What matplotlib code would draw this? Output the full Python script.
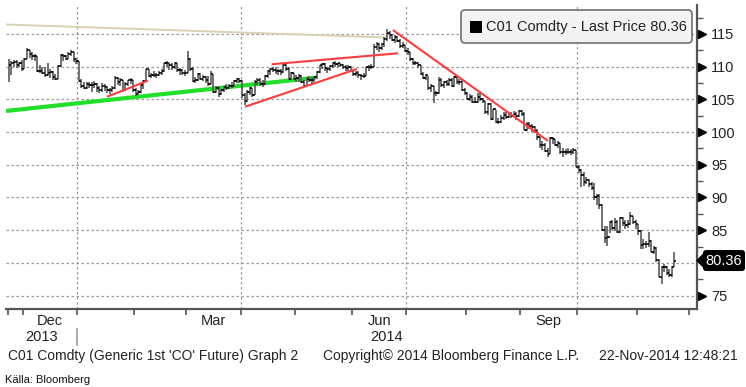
import numpy as np
import pandas as pd
import matplotlib
matplotlib.use("Agg")
import matplotlib.pyplot as plt
from matplotlib.patches import FancyBboxPatch, Polygon
from matplotlib.transforms import blended_transform_factory, IdentityTransform
from matplotlib.lines import Line2D

# ---------------- data ----------------
holidays = ["2013-12-25", "2014-01-01", "2014-04-18"]
start_date = "2013-11-22"
end_date = "2014-11-21"

high = [111.2, 110.8, 111.0, 111.0, 110.7, 111.0,
        111.3, 112.9, 112.5, 112.2, 111.9, 111.7, 110.2, 110.0, 109.9, 110.6, 109.6, 109.3, 108.9, 110.3, 111.9,
        111.9, 111.8, 112.2, 112.6, 112.2, 111.3,
        110.9, 108.1, 107.6, 107.7, 107.7, 107.6, 107.8, 107.5, 107.0, 107.5, 107.3, 107.0, 106.8, 107.0, 108.5,
        108.4, 108.2, 108.0, 107.6, 108.0, 108.2, 108.0,
        106.7, 106.4, 107.3, 107.9, 109.7, 109.7, 109.0, 109.3, 109.0, 109.4, 109.6, 110.6, 110.8, 110.6, 110.5,
        110.7, 110.6, 109.8, 109.6, 109.5,
        112.4, 111.4, 109.9, 108.4, 109.0, 109.1, 108.7, 108.6, 108.6, 109.3, 108.9, 107.0, 107.0, 106.6, 107.1,
        107.4, 107.3, 107.6, 108.0, 108.3, 108.3,
        107.9, 105.9, 106.4, 106.9, 106.8, 107.9, 108.2, 108.3, 107.9, 108.8, 109.5, 109.8, 110.0, 109.9, 109.6,
        109.6, 110.6, 110.4, 109.9, 109.2, 109.1,
        108.7, 108.9, 108.8, 108.0, 108.4, 108.6, 108.4, 108.6, 109.3, 110.3, 110.6, 110.5, 110.0, 110.2, 110.7,
        110.8, 110.6, 110.5, 110.4, 110.2, 110.2, 110.1,
        109.5, 109.3, 109.3, 108.9, 109.0, 110.0, 110.3, 110.4, 113.4, 113.8, 113.6, 113.6, 114.6, 115.7, 115.5,
        115.0, 114.8, 114.7, 114.2, 113.7, 113.3,
        112.8, 112.3, 111.4, 110.9, 110.7, 110.3, 109.2, 108.9, 108.6, 107.3, 107.0, 106.3, 108.4, 108.2, 107.8,
        108.0, 108.2, 108.2, 108.5, 108.6, 108.1, 107.9, 106.7,
        106.1, 105.8, 105.6, 105.3, 106.0, 106.0, 105.2, 104.8, 104.4, 104.4, 103.6, 103.3, 102.1, 102.6, 103.0,
        103.1, 102.9, 103.0, 103.2, 103.0, 103.3,
        103.4, 103.0, 101.6, 101.5, 101.2, 100.9, 100.4, 99.3, 98.6, 98.3, 97.6, 99.3, 99.2, 98.9, 98.6,
        98.4, 97.5, 97.4, 97.6, 97.4, 97.6, 97.3,
        95.0, 94.3, 93.9, 93.2, 92.9, 92.4, 92.2, 90.6, 90.6, 89.0, 85.6, 85.6, 86.4, 86.5, 86.8,
        86.6, 87.0, 87.0, 86.5, 86.5, 87.8, 87.2, 86.5,
        85.9, 85.0, 83.6, 83.4, 84.7, 83.5, 82.6, 82.4, 80.6, 79.6, 79.9, 79.5, 79.0, 79.6, 81.7]

low = [107.7, 108.8, 109.9, 109.8, 109.9, 109.4,
       109.7, 111.1, 111.3, 111.0, 110.8, 109.2, 109.0, 108.9, 108.4, 108.5, 108.2, 108.0, 107.9, 108.1, 110.0,
       110.9, 111.0, 111.1, 111.6, 110.7, 110.4,
       107.6, 106.8, 106.6, 106.6, 106.8, 106.2, 106.7, 106.2, 105.9, 106.2, 106.3, 106.0, 105.8, 106.1, 106.6,
       107.2, 107.0, 106.1, 106.3, 107.1, 107.3, 106.1,
       105.5, 105.6, 105.9, 106.6, 107.6, 108.4, 108.3, 108.4, 108.2, 108.5, 108.8, 109.2, 110.0, 109.5, 109.5,
       109.6, 109.2, 108.8, 108.7, 108.6,
       109.0, 109.3, 107.6, 107.5, 107.8, 107.9, 107.8, 107.5, 107.1, 107.3, 106.0, 105.9, 105.4, 105.6, 106.2,
       106.5, 106.6, 106.7, 106.9, 107.5, 107.5,
       105.2, 104.1, 104.6, 105.6, 105.4, 105.6, 107.2, 107.0, 106.9, 107.2, 108.2, 108.8, 109.2, 108.9, 108.7,
       108.8, 109.0, 109.4, 108.0, 107.9, 108.0,
       107.6, 107.7, 107.5, 106.9, 107.0, 107.6, 107.3, 107.6, 108.1, 109.0, 109.6, 109.4, 109.1, 109.3, 109.8,
       110.0, 109.9, 109.9, 109.6, 109.4, 109.4, 109.2,
       108.5, 108.5, 108.2, 107.9, 108.2, 108.5, 109.3, 109.6, 109.9, 112.5, 112.2, 112.5, 113.0, 114.0, 114.3,
       113.9, 113.6, 113.8, 112.9, 112.9, 112.2,
       111.8, 110.9, 110.3, 110.2, 109.8, 108.7, 108.1, 107.9, 106.4, 106.2, 104.4, 105.5, 105.8, 106.9, 106.8,
       107.0, 107.1, 106.9, 106.9, 107.3, 107.2, 106.3, 105.6,
       104.9, 104.7, 104.4, 104.4, 104.5, 104.8, 104.4, 102.8, 102.6, 101.9, 101.9, 101.4, 101.3, 101.4, 101.9,
       102.0, 102.1, 102.2, 102.3, 101.9, 102.3,
       102.4, 100.3, 100.2, 100.5, 100.0, 99.9, 98.8, 97.6, 97.3, 96.9, 96.2, 96.6, 98.2, 97.8, 97.6,
       96.7, 96.2, 96.5, 96.6, 96.5, 96.6, 94.6,
       93.7, 91.6, 91.8, 92.0, 91.6, 91.1, 89.6, 88.8, 88.2, 84.9, 83.0, 82.6, 84.6, 85.0, 84.9,
       84.6, 84.6, 85.7, 85.2, 85.4, 85.8, 85.9, 85.2,
       84.3, 82.1, 82.2, 82.3, 82.4, 81.7, 81.3, 80.2, 77.8, 76.8, 78.6, 78.1, 77.9, 77.9, 79.3]

close = [110.3, 110.5, 110.7, 110.3, 110.6, 109.7,
         111.2, 112.6, 111.9, 111.6, 111.6, 109.4, 109.4, 109.1, 108.7, 109.0, 109.2, 108.4, 108.1, 110.1, 111.8,
         111.6, 111.2, 112.0, 112.2, 111.2, 110.8,
         107.8, 107.0, 106.7, 107.4, 107.2, 107.2, 107.3, 106.8, 106.4, 107.1, 106.9, 106.5, 106.4, 106.7, 108.3,
         107.6, 107.9, 106.4, 107.4, 107.9, 107.9, 106.4,
         105.8, 106.2, 107.2, 107.8, 109.6, 108.6, 108.7, 108.8, 108.7, 109.1, 109.4, 110.5, 110.5, 110.3, 109.9,
         110.6, 109.5, 109.5, 109.0, 109.1,
         111.2, 109.6, 107.8, 107.9, 108.9, 108.1, 108.4, 108.0, 107.4, 108.9, 106.2, 106.8, 105.8, 106.5, 106.9,
         106.8, 107.1, 107.0, 107.8, 108.1, 107.8,
         105.6, 104.8, 106.2, 106.7, 105.7, 107.7, 108.0, 107.3, 107.3, 108.6, 109.3, 109.6, 109.5, 109.3, 109.3,
         109.2, 110.3, 109.6, 108.1, 109.0, 108.1,
         108.2, 108.6, 107.7, 107.1, 108.1, 107.9, 107.9, 108.4, 109.2, 110.2, 110.4, 109.8, 109.6, 110.1, 110.6,
         110.4, 110.5, 110.3, 110.0, 109.8, 110.0, 109.4,
         108.9, 109.0, 108.8, 108.6, 108.6, 110.0, 110.0, 110.0, 113.0, 113.4, 112.9, 113.4, 114.3, 115.1, 114.8,
         114.1, 114.5, 114.0, 113.2, 113.3, 112.4,
         112.3, 111.2, 110.6, 110.6, 110.2, 108.9, 108.3, 108.7, 106.7, 107.0, 105.9, 105.9, 107.9, 107.2, 107.6,
         107.3, 108.0, 107.1, 108.4, 107.6, 107.7, 106.5, 106.0,
         105.0, 105.4, 104.6, 104.6, 105.4, 105.0, 104.7, 103.0, 104.3, 102.0, 103.5, 101.6, 101.6, 102.2, 102.6,
         102.3, 102.7, 102.5, 102.7, 102.5, 103.2,
         102.8, 100.3, 101.2, 101.0, 100.8, 100.2, 99.2, 98.0, 98.0, 97.1, 96.6, 99.05, 98.97, 98.1, 98.4,
         97.0, 96.9, 97.0, 97.0, 97.0, 97.2, 94.7,
         94.2, 93.4, 92.3, 92.7, 92.1, 91.4, 90.1, 90.2, 88.9, 85.0, 83.8, 84.0, 86.2, 85.4, 86.2,
         84.7, 86.8, 86.1, 85.8, 85.9, 87.1, 86.2, 85.9,
         84.8, 82.8, 82.95, 82.9, 83.4, 81.7, 82.3, 80.4, 77.9, 79.4, 79.3, 78.5, 78.1, 79.3, 80.36]

last_price = 80.36

# trend lines drawn on the chart: (start index, start value, end index, end value)
tan_line = (-1.1, 116.45, 146.4, 114.46)
green_line = (-1.1, 103.23, 118.6, 108.32)
red_lines = [(37.9, 105.41, 53.7, 107.86),
             (91.2, 103.88, 134.4, 109.65),
             (101.5, 110.37, 150.3, 112.05),
             (148.3, 115.6, 208.2, 98.64)]

y_major = [75, 80, 85, 90, 95, 100, 105, 110, 115]
y_minor = [77.5, 82.5, 87.5, 92.5, 97.5, 102.5, 107.5, 112.5, 117.5]
month_labels = {"2013-12": "Dec", "2014-03": "Mar", "2014-06": "Jun", "2014-09": "Sep"}
year_labels = {"2013-12": "2013", "2014-06": "2014"}

# ---------------- calendar ----------------
cal = pd.bdate_range(start_date, "2014-12-31")
cal = cal[~cal.isin(pd.to_datetime(holidays))]
n = min(len(high), len(low), len(close))
high, low, close = high[:n], low[:n], close[:n]
idx = np.arange(n)

months = cal.to_period("M")
bounds = {}
for i, m in enumerate(months):
    key = str(m)
    if key not in bounds:
        bounds[key] = i - 0.5
month_keys = sorted(bounds.keys())

FONT = ["Liberation Sans", "DejaVu Sans"]
plt.rcParams["font.family"] = FONT

W, H = 746, 387
fig = plt.figure(figsize=(W / 100, H / 100), dpi=100)
ax_left, ax_right, ax_top, ax_bot = 6, 697, 5, 309
ax = fig.add_axes([ax_left / W, (H - ax_bot) / H, (ax_right - ax_left) / W, (ax_bot - ax_top) / H])

xmin, xmax = -1.08, 265.7
ymin, ymax = 72.95, 119.43
ax.set_xlim(xmin, xmax)
ax.set_ylim(ymin, ymax)

for s in ["left", "top"]:
    ax.spines[s].set_visible(False)
for s in ["right", "bottom"]:
    ax.spines[s].set_color("#555555")
    ax.spines[s].set_linewidth(1.6)

# grid
grid_kw = dict(color="#9a9a9a", lw=0.9, ls=(0, (2, 2)), zorder=1)
for v in y_major:
    ax.axhline(v, **grid_kw)
for key in ["2014-01", "2014-04", "2014-07", "2014-10"]:
    ax.axvline(bounds[key], **grid_kw)

# trend lines
ax.plot([tan_line[0], tan_line[2]], [tan_line[1], tan_line[3]], color="#d9d1b3", lw=1.4, zorder=2,
        solid_capstyle="butt")
ax.plot([green_line[0], green_line[2]], [green_line[1], green_line[3]], color="#22e02a", lw=3.0, zorder=2,
        solid_capstyle="butt")

# OHLC bars
ax.vlines(idx, low, high, color="#5a5a5a", lw=1.2, zorder=3)
opens = close[:-1]
ax.hlines(opens, idx[1:] - 0.55, idx[1:], color="black", lw=1.1, zorder=4)
ax.hlines(close, idx, idx + 0.55, color="black", lw=1.1, zorder=4)

for (x0, y0, x1, y1) in red_lines:
    ax.plot([x0, x1], [y0, y1], color="#ff3b3b", lw=1.5, zorder=5, solid_capstyle="butt")

# x axis ticks
ax.set_xticks([bounds[k] for k in month_keys if xmin < bounds[k] < xmax])
ax.tick_params(axis="x", direction="out", length=4, width=1.2, color="#555555", labelbottom=False)

# y axis (right); the label at 80 is covered by the last-price tag
ax.yaxis.tick_right()
ax.set_yticks(y_major)
ax.set_yticks(y_minor, minor=True)
ax.set_yticklabels(["" if abs(v - last_price) < 2 else str(v) for v in y_major])
ax.tick_params(axis="y", which="major", length=0, pad=10, labelsize=10.5, labelcolor="#222222")
ax.tick_params(axis="y", which="minor", direction="out", length=4, width=1.0, color="#555555")
ax.tick_params(axis="y", which="both", left=False)
trans_ay = blended_transform_factory(ax.transAxes, ax.transData)
tri_vals = [v for v in y_major if abs(v - last_price) >= 2]
ax.plot([1 + 4.5 / (ax_right - ax_left)] * len(tri_vals), tri_vals, ls="none", marker=">", ms=5.5,
        color="black", transform=trans_ay, clip_on=False, zorder=6)

# month / year labels
trans_xf = blended_transform_factory(ax.transData, fig.transFigure)
for key, lab in month_labels.items():
    i0 = bounds[key]
    nxt = month_keys[month_keys.index(key) + 1]
    mid = (i0 + bounds[nxt]) / 2
    ax.text(mid, 1 - 321 / H, lab, transform=trans_xf, ha="center", va="center", fontsize=10.5, color="#222222")
ax.text(bounds["2013-12"] + 7, 1 - 337 / H, year_labels["2013-12"], transform=trans_xf, ha="center",
        va="center", fontsize=10.5, color="#222222")
ax.text(bounds["2014-06"] + 13.5, 1 - 337 / H, year_labels["2014-06"], transform=trans_xf, ha="center",
        va="center", fontsize=10.5, color="#222222")
fig.add_artist(Line2D([bounds["2014-01"]] * 2, [1 - 329 / H, 1 - 345 / H], transform=trans_xf,
                      color="#999999", lw=1.2))

# footer
fig.text(8 / W, 1 - 356 / H, "C01 Comdty (Generic 1st 'CO' Future) Graph 2", ha="left", va="center",
         fontsize=10, color="#222222")
fig.text(323 / W, 1 - 356 / H, "Copyright\u00a9 2014 Bloomberg Finance L.P.", ha="left", va="center",
         fontsize=10, color="#222222")
fig.text(599 / W, 1 - 356 / H, "22-Nov-2014 12:48:21", ha="left", va="center", fontsize=10, color="#222222")
fig.text(5 / W, 1 - 380 / H, "K\u00e4lla: Bloomberg", ha="left", va="center", fontsize=8,
         family=["Liberation Sans Narrow", "Liberation Sans"], color="#111111")

# legend box
leg = FancyBboxPatch((461, H - 43), 231, 33, boxstyle="round,pad=0,rounding_size=4",
                     transform=IdentityTransform(), fc="#f3f3f3", ec="#707070", lw=1.2, zorder=10)
fig.add_artist(leg)
sq = FancyBboxPatch((470, H - 33), 12, 12, boxstyle="square,pad=0", transform=IdentityTransform(),
                    fc="black", ec="black", lw=0, zorder=11)
fig.add_artist(sq)
fig.text(486 / W, 1 - 27 / H, "C01 Comdty - Last Price %.2f" % last_price, ha="left", va="center",
         fontsize=10.5, color="#222222", zorder=12)

# last price tag
yc = ax.transData.transform((0, last_price))[1]
tag = FancyBboxPatch((703, yc - 10.5), 42, 21, boxstyle="round,pad=0,rounding_size=3",
                     transform=IdentityTransform(), fc="black", ec="black", lw=0, zorder=10)
fig.add_artist(tag)
tri = Polygon([(697, yc), (704, yc + 7), (704, yc - 7)], closed=True, transform=IdentityTransform(),
              fc="black", ec="black", zorder=10)
fig.add_artist(tri)
fig.text(724 / W, yc / H, "%.2f" % last_price, ha="center", va="center", fontsize=10.5, color="white",
         zorder=12)

fig.savefig("out.png", dpi=100, facecolor="white")
